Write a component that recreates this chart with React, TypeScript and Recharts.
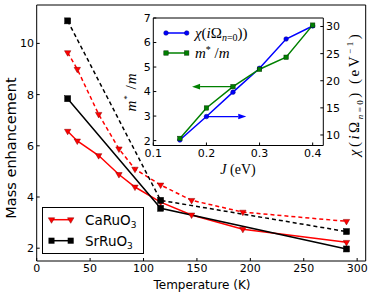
import React from "react";
import { LineChart, Line, XAxis, YAxis, Legend, ReferenceLine } from "recharts";

// main panel: mass enhancement vs temperature
const tempCa = [29, 38, 58, 77, 92, 116, 145, 193, 290];
const caSolid = [6.57, 6.19, 5.62, 4.88, 4.39, 3.8, 3.3, 2.74, 2.23];
const caDashed = [9.64, 8.99, 7.23, 5.88, 5.09, 4.47, 3.87, 3.41, 3.05];
const tempSr = [29, 116, 290];
const srSolid = [7.84, 3.56, 1.97];
const srDashed = [10.88, 3.87, 2.65];
const tempTicks = [0, 50, 100, 150, 200, 250, 300];
const massTicks = [2, 4, 6, 8, 10];

// inset: vs Hund's coupling J
const jValues = [0.15, 0.2, 0.25, 0.3, 0.35, 0.4];
const chiValues = [9.07, 13.4, 17.9, 22.3, 27.7, 30.1];
const massJ = [2.09, 3.33, 4.2, 4.91, 5.4, 6.71];
const jTicks = [0.1, 0.2, 0.3, 0.4];
const insetMassTicks = [2, 3, 4, 5, 6, 7];
const chiTicks = [10, 15, 20, 25, 30];
const massArrow = { from: 0.25, to: 0.173, y: 4.2 };
const chiArrow = { from: 0.2, to: 0.275, y: 13.4 };

const sans = "'DejaVu Sans', sans-serif";
const serif = "'Liberation Serif', serif";
const RED = "#ff0000";
const GREEN = "#008000";
const BLUE = "#0000ff";

const toPoints = (xs: number[], ys: number[]) => xs.map((x, i) => ({ x, y: ys[i] }));

const triPoints = (cx: number, cy: number) =>
  `${cx - 3.2},${cy - 1.9} ${cx + 3.2},${cy - 1.9} ${cx},${cy + 3.6}`;

const triangleDot = (props: any) => {
  const { cx, cy, index } = props;
  if (cx == null || cy == null) return <g key={`t-${index}`} />;
  return <polygon key={`t-${index}`} points={triPoints(cx, cy)} fill={RED} stroke="#8a0000" strokeWidth={0.5} />;
};

const squareDot = (fill: string, edge: string, s: number) => (props: any) => {
  const { cx, cy, index } = props;
  if (cx == null || cy == null) return <g key={`s-${index}`} />;
  return <rect key={`s-${index}`} x={cx - s / 2} y={cy - s / 2} width={s} height={s} fill={fill} stroke={edge} strokeWidth={0.5} />;
};

const circleDot = (props: any) => {
  const { cx, cy, index } = props;
  if (cx == null || cy == null) return <g key={`c-${index}`} />;
  return <circle key={`c-${index}`} cx={cx} cy={cy} r={2.3} fill={BLUE} stroke="#000080" strokeWidth={0.5} />;
};

const arrowShape = (color: string) => (props: any) => {
  const { x1, y1, x2, y2 } = props;
  const dir = Math.sign(x2 - x1);
  const head = 8;
  return (
    <g>
      <line x1={x1} y1={y1} x2={x2 - dir * head} y2={y2} stroke={color} strokeWidth={1.2} />
      <polygon points={`${x2},${y2} ${x2 - dir * head},${y2 - 2.8} ${x2 - dir * head},${y2 + 2.8}`} fill={color} />
    </g>
  );
};

function MainLegend() {
  return (
    <svg width={102} height={47} style={{ display: "block" }}>
      <rect x={0.5} y={0.5} width={101} height={46} fill="#fff" stroke="#000" strokeWidth={1} />
      <line x1={9.5} y1={12.7} x2={28.7} y2={12.7} stroke={RED} strokeWidth={1.5} />
      <polygon points={triPoints(9.5, 12.7)} fill={RED} stroke="#8a0000" strokeWidth={0.5} />
      <polygon points={triPoints(28.7, 12.7)} fill={RED} stroke="#8a0000" strokeWidth={0.5} />
      <text x={43} y={17.5} fontFamily={sans} fontSize={13.5}>
        CaRuO<tspan fontSize={9} dy={3}>3</tspan>
      </text>
      <line x1={9.5} y1={33.7} x2={28.7} y2={33.7} stroke="#000" strokeWidth={1.5} />
      <rect x={6.5} y={30.7} width={6} height={6} fill="#000" />
      <rect x={25.7} y={30.7} width={6} height={6} fill="#000" />
      <text x={43} y={38.5} fontFamily={sans} fontSize={13.5}>
        SrRuO<tspan fontSize={9} dy={3}>3</tspan>
      </text>
    </svg>
  );
}

function InsetLegend() {
  return (
    <svg width={100} height={34} style={{ display: "block" }}>
      <line x1={4} y1={7} x2={24.7} y2={7} stroke={BLUE} strokeWidth={1.5} />
      <circle cx={4} cy={7} r={2.3} fill={BLUE} stroke="#000080" strokeWidth={0.5} />
      <circle cx={24.7} cy={7} r={2.3} fill={BLUE} stroke="#000080" strokeWidth={0.5} />
      <text x={33} y={11.5} fontFamily={serif} fontSize={15} fontStyle="italic">
        χ<tspan fontStyle="normal">(</tspan>i<tspan fontStyle="normal">Ω</tspan>
        <tspan fontSize={10} dy={3}>n</tspan>
        <tspan fontSize={10} fontStyle="normal">=0</tspan>
        <tspan dy={-3} fontStyle="normal">))</tspan>
      </text>
      <line x1={4} y1={27} x2={24.7} y2={27} stroke={GREEN} strokeWidth={1.5} />
      <rect x={1.8} y={24.8} width={4.4} height={4.4} fill={GREEN} stroke="#003000" strokeWidth={0.5} />
      <rect x={22.5} y={24.8} width={4.4} height={4.4} fill={GREEN} stroke="#003000" strokeWidth={0.5} />
      <text x={33} y={31.5} fontFamily={serif} fontSize={15} fontStyle="italic">
        m<tspan fontSize={10} dy={-5} fontStyle="normal">*</tspan>
        <tspan dy={5} fontStyle="normal"> /</tspan>m
      </text>
    </svg>
  );
}

const tickStyle = { fontSize: 11, fill: "#000", fontFamily: sans };

export default function App() {
  return (
    <div style={{ position: "absolute", left: 0, top: 0, width: 374, height: 296, background: "#fff" }}>
      <LineChart width={374} height={296} margin={{ top: 4, right: 7.3, bottom: 34, left: 35.7 }}>
        <XAxis type="number" dataKey="x" domain={[0, 308]} ticks={tempTicks} interval={0} height={1}
          tickSize={-3} tickMargin={6.3} tick={tickStyle} stroke="#000" tickLine={{ stroke: "#000" }} allowDataOverflow />
        <XAxis xAxisId="top" orientation="top" type="number" domain={[0, 308]} ticks={tempTicks} interval={0}
          height={1} tickSize={-3} tick={false} stroke="#000" tickLine={{ stroke: "#000" }} allowDataOverflow />
        <YAxis type="number" domain={[1.5, 11.5]} ticks={massTicks} interval={0} width={1}
          tickSize={-3} tickMargin={5.7} tick={tickStyle} stroke="#000" tickLine={{ stroke: "#000" }} allowDataOverflow />
        <YAxis yAxisId="right" orientation="right" type="number" domain={[1.5, 11.5]} ticks={massTicks} interval={0}
          width={1} tickSize={-3} tick={false} stroke="#000" tickLine={{ stroke: "#000" }} allowDataOverflow />
        <Line data={toPoints(tempCa, caSolid)} dataKey="y" stroke={RED} strokeWidth={1.5} dot={triangleDot} isAnimationActive={false} />
        <Line data={toPoints(tempCa, caDashed)} dataKey="y" stroke={RED} strokeWidth={1.5} strokeDasharray="4 3" dot={triangleDot} isAnimationActive={false} />
        <Line data={toPoints(tempSr, srSolid)} dataKey="y" stroke="#000" strokeWidth={1.5} dot={squareDot("#000", "#000", 6)} isAnimationActive={false} />
        <Line data={toPoints(tempSr, srDashed)} dataKey="y" stroke="#000" strokeWidth={1.5} strokeDasharray="4 3" dot={squareDot("#000", "#000", 6)} isAnimationActive={false} />
        <Legend layout="vertical" align="center" verticalAlign="middle"
          wrapperStyle={{ left: 42, top: 207, width: 102, height: 47 }} content={() => <MainLegend />} />
      </LineChart>

      <div style={{ position: "absolute", left: 153.3, top: 18, width: 170, height: 127.5, background: "#fff" }} />
      <div style={{ position: "absolute", left: 0, top: 0 }}>
        <LineChart width={374} height={296} margin={{ top: 17, right: 49.7, bottom: 149.5, left: 152.3 }}>
          <XAxis type="number" dataKey="x" domain={[0.1, 0.42]} ticks={jTicks} interval={0} height={1}
            tickSize={-3} tickMargin={6.8} tick={tickStyle} tickFormatter={(v: number) => v.toFixed(1)}
            stroke="#000" tickLine={{ stroke: "#000" }} allowDataOverflow />
          <XAxis xAxisId="top" orientation="top" type="number" domain={[0.1, 0.42]} ticks={jTicks} interval={0}
            height={1} tickSize={-3} tick={false} stroke="#000" tickLine={{ stroke: "#000" }} allowDataOverflow />
          <YAxis yAxisId="left" type="number" domain={[1.8, 7]} ticks={insetMassTicks} interval={0} width={1}
            tickSize={-3} tickMargin={5.6} tick={tickStyle} stroke="#000" tickLine={{ stroke: "#000" }} allowDataOverflow />
          <YAxis yAxisId="right" orientation="right" type="number" domain={[8.06, 31.57]} ticks={chiTicks} interval={0}
            width={1} tickSize={-3} tickMargin={5.7} tick={tickStyle} stroke="#000" tickLine={{ stroke: "#000" }} allowDataOverflow />
          <ReferenceLine yAxisId="left" segment={[{ x: massArrow.from, y: massArrow.y }, { x: massArrow.to, y: massArrow.y }]}
            shape={arrowShape(GREEN)} ifOverflow="visible" />
          <ReferenceLine yAxisId="right" segment={[{ x: chiArrow.from, y: chiArrow.y }, { x: chiArrow.to, y: chiArrow.y }]}
            shape={arrowShape(BLUE)} ifOverflow="visible" />
          <Line yAxisId="right" data={toPoints(jValues, chiValues)} dataKey="y" stroke={BLUE} strokeWidth={1.5} dot={circleDot} isAnimationActive={false} />
          <Line yAxisId="left" data={toPoints(jValues, massJ)} dataKey="y" stroke={GREEN} strokeWidth={1.5} dot={squareDot(GREEN, "#003000", 4.4)} isAnimationActive={false} />
          <Legend layout="vertical" align="center" verticalAlign="middle"
            wrapperStyle={{ left: 162, top: 26, width: 100, height: 34 }} content={() => <InsetLegend />} />
        </LineChart>
      </div>

      {/* axis labels */}
      <div style={{ position: "absolute", left: 202, top: 285, transform: "translate(-50%, -50%)", fontFamily: sans, fontSize: 12, whiteSpace: "nowrap" }}>
        Temperature (K)
      </div>
      <div style={{ position: "absolute", left: 11, top: 148, transform: "translate(-50%, -50%) rotate(-90deg)", fontFamily: sans, fontSize: 14.5, whiteSpace: "nowrap" }}>
        Mass enhancement
      </div>
      <div style={{ position: "absolute", left: 238, top: 170, transform: "translate(-50%, -50%)", fontFamily: serif, fontSize: 14, whiteSpace: "nowrap" }}>
        <i>J</i> (eV)
      </div>
      <div style={{ position: "absolute", left: 131, top: 92, transform: "translate(-50%, -50%) rotate(-90deg)", fontFamily: serif, fontSize: 15, letterSpacing: 1, whiteSpace: "nowrap" }}>
        <i>m</i><sup style={{ fontSize: 9 }}>*</sup> /<i>m</i>
      </div>
      <div style={{ position: "absolute", left: 354.5, top: 94, transform: "translate(-50%, -50%) rotate(-90deg)", fontFamily: serif, fontSize: 15, letterSpacing: 2.5, whiteSpace: "nowrap" }}>
        <i>χ</i>(<i>i</i>Ω<sub style={{ fontSize: 9 }}><i>n</i>=0</sub>) (eV<sup style={{ fontSize: 9 }}>−1</sup>)
      </div>
    </div>
  );
}
